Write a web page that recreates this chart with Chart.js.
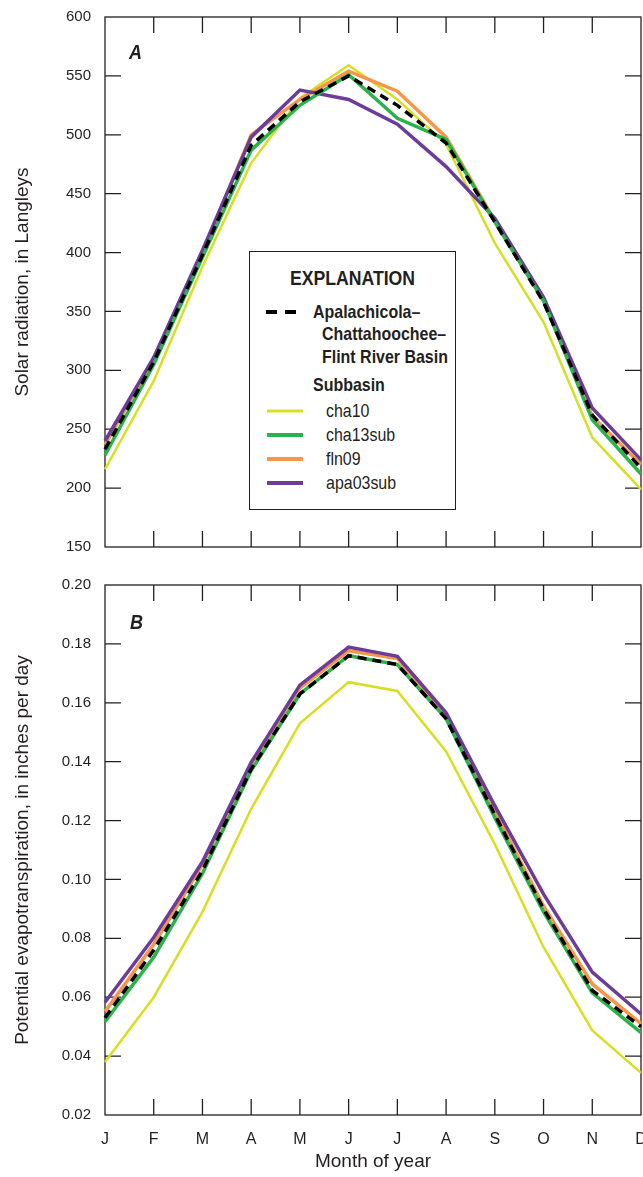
<!DOCTYPE html>
<html>
<head>
<meta charset="utf-8">
<script src="https://cdn.jsdelivr.net/npm/chart.js@4.4.1/dist/chart.umd.min.js"></script>
<style>
  html,body{margin:0;padding:0;background:#fff;}
  body{position:relative;width:643px;height:1177px;overflow:hidden;color:#231f20;
       font-family:"Liberation Sans Narrow","Liberation Sans",Arial,sans-serif;}
  canvas{position:absolute;left:0;}
  #ca{top:0;}
  #cb{top:566px;}
  .plab{position:absolute;font-style:italic;font-weight:bold;font-size:20px;line-height:20px;
        transform:scaleX(0.9);transform-origin:left center;}
  #legend{position:absolute;left:249px;top:251px;width:207px;height:259px;box-sizing:border-box;
          border:1.3px solid #231f20;background:#fff;}
  #legend .t{position:absolute;white-space:nowrap;line-height:22px;transform:scaleX(0.84);transform-origin:left center;}
  #legend .t.c{transform-origin:center center;}
  #legend svg{position:absolute;left:0;top:0;}
</style>
</head>
<body>
<canvas id="ca" width="643" height="566"></canvas>
<canvas id="cb" width="643" height="611"></canvas>
<div class="plab" style="left:129px;top:42px;">A</div>
<div class="plab" style="left:130px;top:612px;">B</div>
<div id="legend"></div>
<script>
// ---------- data ----------
const months = ['J','F','M','A','M','J','J','A','S','O','N','D'];
const basinName = ['Apalachicola–','Chattahoochee–','Flint River Basin'];
const subbasinNames = ['cha10','cha13sub','fln09','apa03sub'];

const solarBasin    = [233,307,398,491,528,550,525,493,426,358,262,217];
const solarCha10    = [216,291,388,476,531,559,530,492,408,341,243,199];
const solarCha13sub = [228,305,396,487,525,551,514,496,426,359,258,212];
const solarFln09    = [237,309,400,500,530,554,537,498,427,359,261,220];
const solarApa03sub = [240,311,402,498,538,530,509,473,429,362,268,224];

const petBasin    = [0.053,0.076,0.103,0.1375,0.163,0.176,0.173,0.1546,0.122,0.090,0.0623,0.050];
const petCha10    = [0.038,0.060,0.089,0.124,0.153,0.167,0.164,0.1435,0.112,0.077,0.0487,0.0343];
const petCha13sub = [0.0517,0.0736,0.102,0.137,0.163,0.176,0.173,0.1546,0.121,0.089,0.0615,0.048];
const petFln09    = [0.0551,0.078,0.105,0.139,0.165,0.1777,0.175,0.1557,0.123,0.091,0.0645,0.051];
const petApa03sub = [0.0583,0.0803,0.106,0.1398,0.166,0.1789,0.1758,0.1566,0.125,0.095,0.0685,0.0543];

const solarTickValues = [150,200,250,300,350,400,450,500,550,600];
const petTickValues   = [0.02,0.04,0.06,0.08,0.10,0.12,0.14,0.16,0.18,0.20];
const petTickLabels   = ['0.02','0.04','0.06','0.08','0.10','0.12','0.14','0.16','0.18','0.20'];

// ---------- styles ----------
const FONT = '"Liberation Sans Narrow","Liberation Sans",Arial,sans-serif';
const INK = '#231f20';
const basinStyle = {color:'#000000', width:3.5, dash:[9,6]};
const subStyles = [
  {color:'#d7df23', width:2.5},
  {color:'#2ab34a', width:3.5},
  {color:'#f7964a', width:3.5},
  {color:'#6b3c98', width:3.5}
];
const drawOrder = [4,1,3,2]; // Chart.js "order": lower = drawn on top

function makeDatasets(basin, subs){
  const ds = [{label:basinName.join(' '), data:basin, borderColor:basinStyle.color,
               borderWidth:basinStyle.width, borderDash:basinStyle.dash, order:0}];
  subs.forEach((d,i)=>ds.push({label:subbasinNames[i], data:d, borderColor:subStyles[i].color,
               borderWidth:subStyles[i].width, order:drawOrder[i]}));
  ds.forEach(d=>{d.pointRadius=0;d.tension=0;d.fill=false;d.borderCapStyle='butt';d.borderJoinStyle='miter';d.clip=4;});
  return ds;
}

const framePlugin = {
  id:'frame',
  beforeDatasetsDraw(chart){
    const {ctx, chartArea:{left,right,top,bottom}, scales:{x,y}} = chart;
    ctx.save();
    ctx.strokeStyle = INK; ctx.lineWidth = 1.3;
    ctx.strokeRect(left, top, right-left, bottom-top);
    ctx.beginPath();
    const L = 16;
    for(let i=1;i<x.ticks.length-1;i++){
      const px = x.getPixelForTick(i);
      ctx.moveTo(px,bottom); ctx.lineTo(px,bottom-L);
      ctx.moveTo(px,top); ctx.lineTo(px,top+L);
    }
    for(let i=1;i<y.ticks.length-1;i++){
      const py = y.getPixelForValue(y.ticks[i].value);
      ctx.moveTo(left,py); ctx.lineTo(left+L,py);
      ctx.moveTo(right,py); ctx.lineTo(right-L,py);
    }
    ctx.stroke();
    ctx.restore();
  }
};

function baseOptions(yTicks, yMin, yMax, yTitle, yFmt, showX, xHeight){
  return {
    responsive:false, animation:false, events:[],
    layout:{padding:{top:19, right:2, left:0, bottom:0}},
    plugins:{legend:{display:false}, tooltip:{enabled:false}},
    scales:{
      x:{
        type:'category', offset:false,
        grid:{display:false, drawTicks:false}, border:{display:false},
        ticks:{display:showX, autoSkip:false, maxRotation:0, minRotation:0, padding:15,
               color:INK, font:{family:FONT, size:16}},
        title:{display:showX, text:'Month of year', color:INK, font:{family:FONT, size:19},
               padding:{top:0,bottom:4}},
        afterFit(s){ s.height = xHeight; s.paddingLeft = 0; s.paddingRight = 0; }
      },
      y:{
        type:'linear', min:yMin, max:yMax,
        grid:{display:false, drawTicks:false}, border:{display:false},
        afterBuildTicks(s){ s.ticks = yTicks.map(v=>({value:v})); },
        ticks:{padding:14, color:INK, font:{family:FONT, size:15}, callback:yFmt},
        title:{display:true, text:yTitle, color:INK, font:{family:FONT, size:19},
               padding:{top:11,bottom:0}},
        afterFit(s){ s.width = 105; s.paddingTop = 0; s.paddingBottom = 0; }
      }
    }
  };
}

const optA = baseOptions(solarTickValues, 150, 600, 'Solar radiation, in Langleys',
                         v=>String(v), false, 19);
optA.layout.padding.top = 17;
new Chart(document.getElementById('ca'), {
  type:'line',
  data:{labels:months, datasets:makeDatasets(solarBasin,[solarCha10,solarCha13sub,solarFln09,solarApa03sub])},
  options:optA, plugins:[framePlugin]
});

const optB = baseOptions(petTickValues, 0.02, 0.20, 'Potential evapotranspiration, in inches per day',
                         v=>petTickLabels[petTickValues.findIndex(t=>Math.abs(t-v)<1e-9)], true, 62);
optB.layout.padding.top = 19;
new Chart(document.getElementById('cb'), {
  type:'line',
  data:{labels:months, datasets:makeDatasets(petBasin,[petCha10,petCha13sub,petFln09,petApa03sub])},
  options:optB, plugins:[framePlugin]
});

// ---------- legend (HTML text, SVG samples) ----------
(function(){
  const lg = document.getElementById('legend');
  const svgNS = 'http://www.w3.org/2000/svg';
  const svg = document.createElementNS(svgNS,'svg');
  svg.setAttribute('width','205'); svg.setAttribute('height','257');
  lg.appendChild(svg);
  function line(x1,x2,y,st,dash){
    const l = document.createElementNS(svgNS,'line');
    l.setAttribute('x1',x1); l.setAttribute('x2',x2); l.setAttribute('y1',y); l.setAttribute('y2',y);
    l.setAttribute('stroke',st.color); l.setAttribute('stroke-width',st.width+0.5);
    if(dash) l.setAttribute('stroke-dasharray',dash);
    svg.appendChild(l);
  }
  function text(str,left,cy,size,bold,center){
    const d = document.createElement('div');
    d.className='t'+(center?' c':''); d.textContent=str;
    d.style.fontSize=size+'px'; d.style.fontWeight=bold?'bold':'normal';
    d.style.top=(cy-11)+'px';
    if(center){d.style.left='0';d.style.width='205px';d.style.textAlign='center';}
    else d.style.left=left+'px';
    lg.appendChild(d);
  }
  text('EXPLANATION',0,26,21,true,true);
  line(16,50,60,basinStyle,'11,8');
  text(basinName[0],63,60,19,true);
  text(basinName[1],72,82,19,true);
  text(basinName[2],72,105,19,true);
  text('Subbasin',63,133,19,true);
  const ys=[159,183,207,231];
  subbasinNames.forEach((n,i)=>{ line(17,53,ys[i],subStyles[i]); text(n,76,ys[i],19,false); });
})();
</script>
</body>
</html>
